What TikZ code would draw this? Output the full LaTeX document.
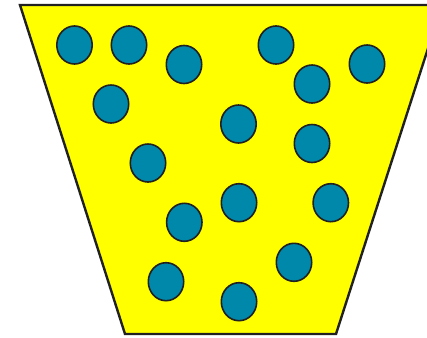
\documentclass[tikz,border=0pt]{standalone}
\begin{document}
\begin{tikzpicture}[x=1pt,y=-1pt,
  bucket/.style={draw=black!87,line width=2.4pt,fill={rgb,255:red,255;green,255;blue,0},line join=miter},
  dot/.style={draw=black!87,line width=1.6pt,fill={rgb,255:red,0;green,136;blue,170}}]
\useasboundingbox (0,0) rectangle (427,337);
\clip (0,0) rectangle (427,337);
\draw[bucket] (20,5) coordinate (tl) -- (442,5) coordinate (tr) -- (336,334) coordinate (br) -- (125,334) coordinate (bl) -- cycle;
\foreach \n/\x/\y in {a/74.5/45,b/129/45,c/184/64.5,d/276/45,e/312/84,f/367/64,g/111/104,h/238.5/124,i/312/143.5,j/148/163,k/184.3/222.3,l/239/202.7,m/330.8/202.7,n/166/281.7,o/294/262.3,p/239/301.7}
  \draw[dot] (\x,\y) coordinate (\n) ellipse [x radius=17.7, y radius=19];
\end{tikzpicture}
\end{document}
